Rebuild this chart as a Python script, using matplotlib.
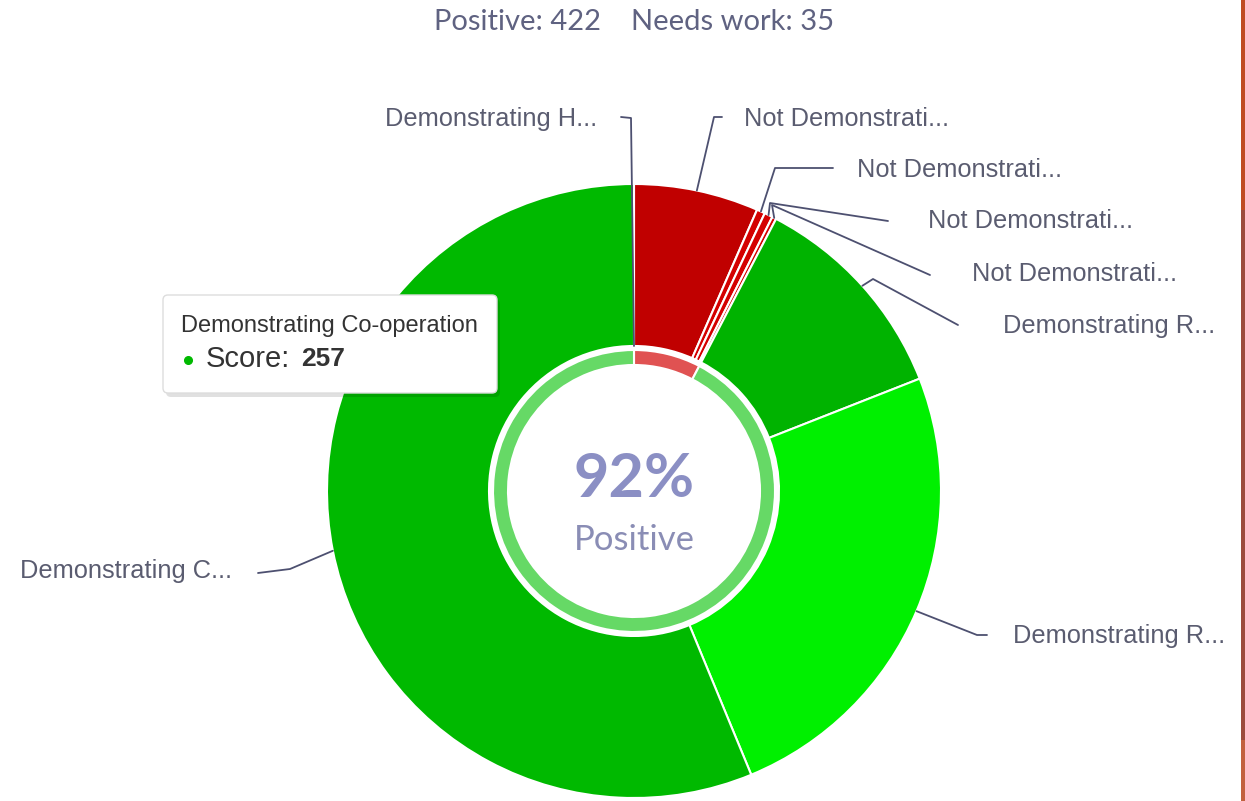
import numpy as np
import matplotlib.pyplot as plt
from matplotlib.patches import FancyBboxPatch, Rectangle

# ---- data -------------------------------------------------------------
categories = ["Demonstrating H...", "Not Demonstrati...", "Not Demonstrati...",
              "Not Demonstrati...", "Not Demonstrati...", "Demonstrating R...",
              "Demonstrating R...", "Demonstrating C..."]
scores = [0, 30, 2, 2, 1, 52, 113, 257]
slice_colors = ["#00b900", "#c00000", "#d40000", "#d40000", "#d40000",
                "#00b300", "#00f000", "#00b900"]
summary_labels = ["Needs work", "Positive"]
summary_values = [35, 422]
summary_colors = ["#e05252", "#66d966"]

W, H = 1245, 801
CX, CY, R = 634, 491, 307
R_HOLE = 145
TXT = "#5a5c70"
ACCENT = "#8b8fc4"

fig = plt.figure(figsize=(W / 100, H / 100), dpi=100)
ax = fig.add_axes([0, 0, 1, 1])

# outer donut (y axis is flipped below, so ccw in data = clockwise on screen)
ax.pie(scores, colors=slice_colors, startangle=-90, counterclock=True,
       center=(CX, CY), radius=R,
       wedgeprops=dict(width=R - R_HOLE, edgecolor="white", linewidth=1.5))

# inner summary ring
ax.pie(summary_values, colors=summary_colors, startangle=-90, counterclock=True,
       center=(CX, CY), radius=141,
       wedgeprops=dict(width=15, edgecolor="white", linewidth=1.5))

ax.set_xlim(0, W)
ax.set_ylim(H, 0)
ax.set_aspect("equal")
ax.axis("off")

# ---- labels + connectors --------------------------------------------------
# (text x, text y, alignment, elbow point, connector end next to text)
label_layout = [
    (597, 119, "right", (631, 118), (621, 117)),
    (744, 119, "left", (714, 117), (722, 117)),
    (857, 170, "left", (775, 168), (833, 168)),
    (928, 221, "left", (770, 203), (888, 221)),
    (972, 274, "left", (772, 205), (930, 275)),
    (1003, 326, "left", (873, 279), (958, 325)),
    (1013, 636, "left", (977, 635), (987, 635)),
    (20, 571, "left", (290, 569), (258, 573)),
]

total = sum(scores)
cum = np.cumsum([0] + scores)
for i, (name, (tx, ty, ha, elbow, end)) in enumerate(zip(categories, label_layout)):
    mid = (cum[i] + cum[i + 1]) / 2 / total * 2 * np.pi
    r_edge = R if scores[i] > 0 else R_HOLE
    ex, ey = CX + r_edge * np.sin(mid), CY - r_edge * np.cos(mid)
    ax.plot([ex, elbow[0], end[0]], [ey, elbow[1], end[1]],
            color="#4d5070", lw=1.3, solid_capstyle="round", zorder=3)
    ax.text(tx, ty, name, ha=ha, va="center", fontsize=18.3,
            family="Liberation Sans", color=TXT)

# ---- centre text ------------------------------------------------------
pct = round(100 * summary_values[1] / sum(summary_values))
ax.text(CX, 479, f"{pct}%", ha="center", va="center", fontsize=44,
        fontweight="bold", family="Lato", color=ACCENT)
ax.text(CX, 540, "Positive", ha="center", va="center", fontsize=25,
        family="Lato", color="#8a8db5")

# ---- title ------------------------------------------------------------
ax.text(CX, 22, f"Positive: {summary_values[1]}    Needs work: {summary_values[0]}",
        ha="center", va="center", fontsize=21, family="Lato", color="#5f6281")

# ---- tooltip ----------------------------------------------------------
shadow = FancyBboxPatch((166, 299), 334, 98, boxstyle="round,pad=0,rounding_size=5",
                        facecolor="#000000", alpha=0.12, edgecolor="none", zorder=4)
tip = FancyBboxPatch((163, 295), 334, 98, boxstyle="round,pad=0,rounding_size=5",
                     facecolor="white", edgecolor="#dddddd", lw=1, zorder=5)
ax.add_patch(shadow)
ax.add_patch(tip)
ax.text(181, 326, "Demonstrating Co-operation", ha="left", va="center",
        fontsize=17, family="Liberation Sans", color="#333333", zorder=6)
ax.plot([188], [360], "o", color=slice_colors[-1], ms=5.5, zorder=6)
ax.text(206, 359, "Score:", ha="left", va="center", fontsize=21,
        family="Liberation Sans", color="#333333", zorder=6)
ax.text(301, 359, str(scores[-1]), ha="left", va="center", fontsize=19,
        fontweight="bold", family="Liberation Sans", color="#333333", zorder=6)

# ---- right-hand frame edge --------------------------------------------
for y0, y1, c in [(0, 210, "#bf4b22"), (210, 740, "#9b4a3c"), (740, H, "#c2613f")]:
    ax.add_patch(Rectangle((1241, y0), 4, y1 - y0, facecolor=c, edgecolor="none"))

fig.savefig("out.png", dpi=100, facecolor="white")
